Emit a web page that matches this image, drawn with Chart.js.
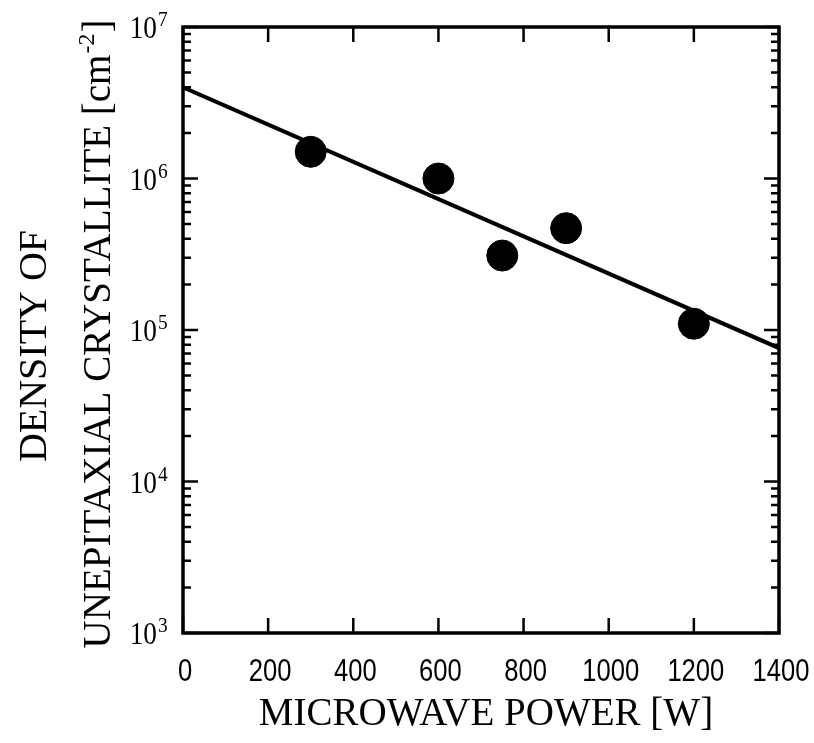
<!DOCTYPE html>
<html>
<head>
<meta charset="utf-8">
<script src="https://cdn.jsdelivr.net/npm/chart.js@4/dist/chart.umd.min.js"></script>
<style>
  html, body { margin: 0; padding: 0; background: #fff; }
  #wrap { width: 814px; height: 743px; position: relative; }
</style>
</head>
<body>
<div id="wrap"><canvas id="c" width="814" height="743"></canvas></div>
<script>
// ---- data ----
const powerW = [300, 600, 750, 900, 1200];
const density = [1.5e6, 1.0e6, 3.1e5, 4.7e5, 1.1e5];
const fitPowerW = [0, 1400];
const fitDensity = [4.0e6, 7.6e4];
const xTickValues = [0, 200, 400, 600, 800, 1000, 1200, 1400];
const yDecadeExponents = [3, 4, 5, 6, 7];
const xTitle = 'MICROWAVE POWER [W]';
const yTitleLine1 = 'DENSITY OF';
const yTitleLine2 = 'UNEPITAXIAL CRYSTALLITE [cm';
const yTitleSup = '-2';
const yTitleEnd = ']';

const SERIF = '"Liberation Serif", "DejaVu Serif", serif';
const SANS = '"Liberation Sans", Arial, sans-serif';

const framePlugin = {
  id: 'frame',
  afterDraw(chart) {
    const ctx = chart.ctx;
    const a = chart.chartArea;
    const xs = chart.scales.x, ys = chart.scales.y;
    ctx.save();
    ctx.strokeStyle = '#000';
    ctx.fillStyle = '#000';
    // frame
    ctx.lineWidth = 3.5;
    ctx.strokeRect(a.left, a.top, a.right - a.left, a.bottom - a.top);
    // x ticks (inside, bottom and top)
    ctx.lineWidth = 2.5;
    xTickValues.forEach(v => {
      const px = xs.getPixelForValue(v);
      ctx.beginPath();
      ctx.moveTo(px, a.bottom); ctx.lineTo(px, a.bottom - 15);
      ctx.moveTo(px, a.top); ctx.lineTo(px, a.top + 15);
      ctx.stroke();
    });
    // y ticks (log decades + minors), left and right
    yDecadeExponents.forEach((e, i) => {
      for (let m = 1; m <= 9; m++) {
        if (i === yDecadeExponents.length - 1 && m > 1) break;
        const v = m * Math.pow(10, e);
        const py = ys.getPixelForValue(v);
        const len = m === 1 ? 15 : 8;
        ctx.beginPath();
        ctx.moveTo(a.left, py); ctx.lineTo(a.left + len, py);
        ctx.moveTo(a.right, py); ctx.lineTo(a.right - len, py);
        ctx.stroke();
      }
    });
    // x tick labels (condensed sans)
    ctx.textBaseline = 'alphabetic';
    ctx.textAlign = 'center';
    ctx.font = '32px ' + SANS;
    xTickValues.forEach(v => {
      const px = xs.getPixelForValue(v);
      ctx.save();
      ctx.translate(px + 2, a.bottom + 48);
      ctx.scale(0.8, 1);
      ctx.fillText(String(v), 0, 0);
      ctx.restore();
    });
    // y tick labels 10^n
    yDecadeExponents.forEach(e => {
      const py = ys.getPixelForValue(Math.pow(10, e));
      ctx.save();
      ctx.translate(157, py + 11);
      ctx.scale(0.88, 1);
      ctx.font = '31px ' + SERIF;
      ctx.textAlign = 'right';
      ctx.fillText('10', 0, 0);
      ctx.font = '22px ' + SERIF;
      ctx.textAlign = 'left';
      ctx.fillText(String(e), 1, -12);
      ctx.restore();
    });
    // x title
    ctx.font = '39px ' + SERIF;
    ctx.textAlign = 'center';
    ctx.fillText(xTitle, 486, 725);
    // y title (rotated)
    ctx.save();
    ctx.translate(46, 346);
    ctx.rotate(-Math.PI / 2);
    ctx.font = '40px ' + SERIF;
    ctx.textAlign = 'center';
    ctx.fillText(yTitleLine1, 0, 0);
    ctx.restore();
    ctx.save();
    ctx.translate(110, 334);
    ctx.rotate(-Math.PI / 2);
    ctx.font = '39px ' + SERIF;
    const w1 = ctx.measureText(yTitleLine2).width;
    ctx.font = '24px ' + SERIF;
    const w2 = ctx.measureText(yTitleSup).width;
    ctx.font = '39px ' + SERIF;
    const w3 = ctx.measureText(yTitleEnd).width;
    const total = w1 + w2 + w3 + 2;
    let x0 = -total / 2;
    ctx.textAlign = 'left';
    ctx.fillText(yTitleLine2, x0, 0);
    ctx.font = '24px ' + SERIF;
    ctx.fillText(yTitleSup, x0 + w1 + 1, -16);
    ctx.font = '39px ' + SERIF;
    ctx.fillText(yTitleEnd, x0 + w1 + w2 + 2, 0);
    ctx.restore();
    ctx.restore();
  }
};

new Chart(document.getElementById('c'), {
  type: 'scatter',
  data: {
    datasets: [
      {
        type: 'line',
        data: fitPowerW.map((x, i) => ({ x, y: fitDensity[i] })),
        borderColor: '#000',
        borderWidth: 4,
        pointRadius: 0,
        fill: false,
        tension: 0
      },
      {
        data: powerW.map((x, i) => ({ x, y: density[i] })),
        backgroundColor: '#000',
        borderColor: '#000',
        pointRadius: 15.5,
        pointHoverRadius: 15.5
      }
    ]
  },
  options: {
    responsive: false,
    animation: false,
    devicePixelRatio: 1,
    layout: { padding: { top: 27, right: 35, left: 0, bottom: 0 } },
    plugins: { legend: { display: false }, tooltip: { enabled: false } },
    scales: {
      x: {
        type: 'linear', min: 0, max: 1400,
        grid: { display: false, drawTicks: false },
        border: { display: false },
        ticks: { display: false },
        afterFit(s) { s.height = 110; }
      },
      y: {
        type: 'logarithmic', min: 1e3, max: 1e7,
        grid: { display: false, drawTicks: false },
        border: { display: false },
        ticks: { display: false },
        afterFit(s) { s.width = 183; }
      }
    }
  },
  plugins: [framePlugin]
});
</script>
</body>
</html>
